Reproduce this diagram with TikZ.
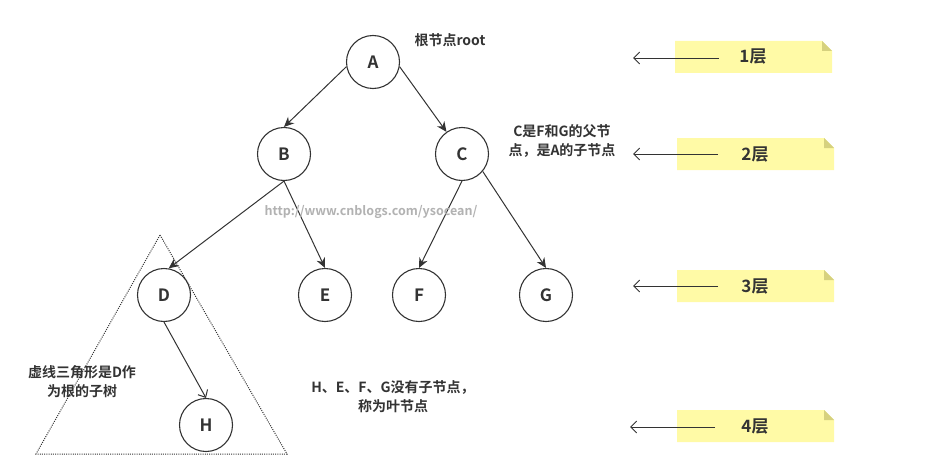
\documentclass[tikz,border=0pt]{standalone}
\usepackage{fontspec}
\setmainfont{Noto Sans CJK SC}[BoldFont={* Bold}]
\usetikzlibrary{arrows.meta}
\definecolor{ink}{HTML}{333333}
\definecolor{notey}{HTML}{FFFAA6}
\definecolor{notefold}{HTML}{D6D17E}
\tikzset{
  tnode/.style={circle,draw=ink,line width=1.1pt,minimum size=53pt,inner sep=0pt,font=\bfseries\fontsize{17}{17}\selectfont,text=ink},
  edge/.style={draw=ink,line width=1pt,-{Stealth[length=10pt,width=9pt]}},
  openedge/.style={draw=ink,line width=1pt,-{Straight Barb[length=6pt,width=11pt]}},
  lbl/.style={font=\bfseries\fontsize{14}{19}\selectfont,text=ink,align=center,inner sep=0pt},
  lvlarrow/.style={draw=ink,line width=0.9pt,-{Straight Barb[length=6pt,width=12pt]}},
}
\newcommand{\lvlnote}[4]{% name, x1, ytop, text
  \fill[notey] (#2,#3) -- (#2+147,#3) -- (#2+157,#3+10) -- (#2+157,#3+32) -- (#2,#3+32) -- cycle;
  \fill[notefold] (#2+147,#3) -- (#2+157,#3+10) -- (#2+147,#3+10) -- cycle;
  \node[font=\bfseries\fontsize{17}{17}\selectfont,text=ink] (#1) at (#2+78,#3+16) {#4};
}
\begin{document}
\begin{tikzpicture}[x=1pt,y=-1pt]
\useasboundingbox (0,0) rectangle (949,468);
% tree nodes
\node[tnode] (A) at (373,62) {A};
\node[tnode] (B) at (284,154) {B};
\node[tnode] (C) at (462,154) {C};
\node[tnode] (D) at (164,295) {D};
\node[tnode] (E) at (325,295) {E};
\node[tnode] (F) at (419,295) {F};
\node[tnode] (G) at (546,295) {G};
\node[tnode] (H) at (206,425) {H};
% edges
\draw[edge] (A.190) -- (B.north);
\draw[edge] (A.-10) -- (C.125);
\draw[edge] (B.south) -- (D.80);
\draw[edge] (B.south) -- (E.north);
\draw[edge] (C.south) -- (F.north);
\draw[edge] (C.-40) -- (G.north);
\draw[openedge] (D.south) -- (H.north);
% dotted triangle
\draw[ink,line width=1pt,dash pattern=on 1pt off 1.2pt] (160,235) -- (287,454) -- (36,454) -- cycle;
% labels
\node[lbl] (root) at (450,40) {根节点root};
\node[lbl] (cnote) at (562,141) {C是F和G的父节\\点，是A的子节点};
\node[lbl] (dnote) at (82,382) {虚线三角形是D作\\为根的子树};
\node[lbl] (leaf) at (393,397) {H、E、F、G没有子节点，\\称为叶节点};
\node[font=\bfseries\fontsize{12.5}{12.5}\selectfont,text=black!30] (wm) at (371,212) {http://www.cnblogs.com/ysocean/};
% level notes
\lvlnote{n1}{675}{41}{1层}
\lvlnote{n2}{677}{138}{2层}
\lvlnote{n3}{677}{270}{3层}
\lvlnote{n4}{677}{410}{4层}
\coordinate (a1s) at (719,58); \coordinate (a1e) at (633,58);
\coordinate (a2s) at (718,154); \coordinate (a2e) at (633,154);
\coordinate (a3s) at (718,286); \coordinate (a3e) at (633,286);
\coordinate (a4s) at (715,427); \coordinate (a4e) at (630,427);
\draw[lvlarrow] (a1s) -- (a1e);
\draw[lvlarrow] (a2s) -- (a2e);
\draw[lvlarrow] (a3s) -- (a3e);
\draw[lvlarrow] (a4s) -- (a4e);
\end{tikzpicture}
\end{document}
